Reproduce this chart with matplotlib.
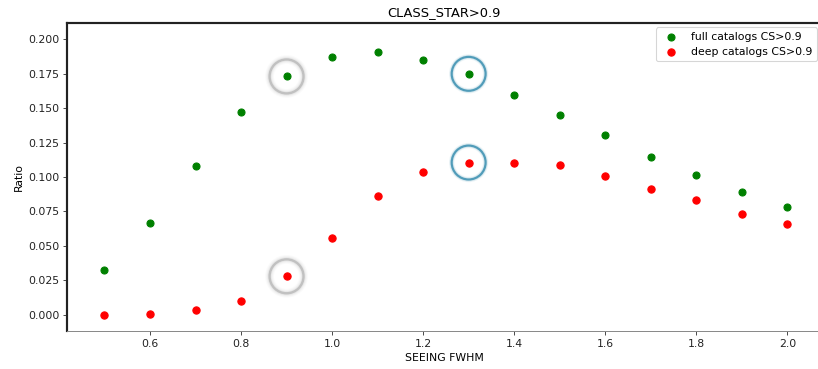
import matplotlib.pyplot as plt

# seeing FWHM values and star ratios for the two catalogs
seeing = [0.5, 0.6, 0.7, 0.8, 0.9, 1.0, 1.1, 1.2, 1.3, 1.4, 1.5, 1.6, 1.7, 1.8, 1.9, 2.0]
full_cs = [0.0327, 0.0666, 0.1083, 0.1475, 0.1730, 0.1871, 0.1907, 0.1849,
           0.1749, 0.1597, 0.1451, 0.1304, 0.1148, 0.1015, 0.0891, 0.0785]
deep_cs = [0.0000, 0.0007, 0.0032, 0.0100, 0.0279, 0.0560, 0.0860, 0.1039,
           0.1105, 0.1100, 0.1088, 0.1010, 0.0916, 0.0831, 0.0734, 0.0661]

# points that are ringed
grey_x = [0.9, 0.9]
grey_y = [0.1730, 0.0279]
teal_x = [1.3, 1.3]
teal_y = [0.1749, 0.1105]

dpi = 78
fig = plt.figure(figsize=(818 / dpi, 369 / dpi), dpi=dpi)
ax = fig.add_axes([67 / 818, 38 / 369, (821 - 67) / 818, (331 - 23) / 369])

ax.scatter(seeing, full_cs, s=42, color="green", label="full catalogs CS>0.9", zorder=3)
ax.scatter(seeing, deep_cs, s=45, color="red", label="deep catalogs CS>0.9", zorder=3)

# soft rings round the highlighted points
for lw, a in [(8, 0.05), (6, 0.08), (4, 0.15), (2.2, 0.6)]:
    ax.scatter(grey_x, grey_y, s=980, facecolors="none", edgecolors="#a8a8a8",
               linewidths=lw, alpha=a, zorder=2)
for lw, a in [(5, 0.08), (3.5, 0.15), (2.0, 0.85)]:
    ax.scatter(teal_x, teal_y, s=980, facecolors="none", edgecolors="#3a8fb0",
               linewidths=lw, alpha=a, zorder=2)

ax.set_xlim(0.4177, 2.074)
ax.set_ylim(-0.0118, 0.2118)
ax.set_xticks([0.6, 0.8, 1.0, 1.2, 1.4, 1.6, 1.8, 2.0])
ax.set_yticks([0.0, 0.025, 0.05, 0.075, 0.1, 0.125, 0.15, 0.175, 0.2])

ax.spines["top"].set_linewidth(2.0)
ax.spines["top"].set_color("#222222")
ax.spines["left"].set_linewidth(2.0)
ax.spines["left"].set_color("#222222")
ax.spines["bottom"].set_linewidth(0.9)
ax.spines["bottom"].set_color("#888888")
ax.spines["right"].set_visible(False)
ax.tick_params(colors="#333333", labelcolor="#222222")

ax.set_title("CLASS_STAR>0.9", fontsize=12)
ax.set_xlabel("SEEING FWHM")
ax.set_ylabel("Ratio")
ax.legend(loc="upper right", borderaxespad=0.4)

plt.savefig("out.png", dpi=dpi)
